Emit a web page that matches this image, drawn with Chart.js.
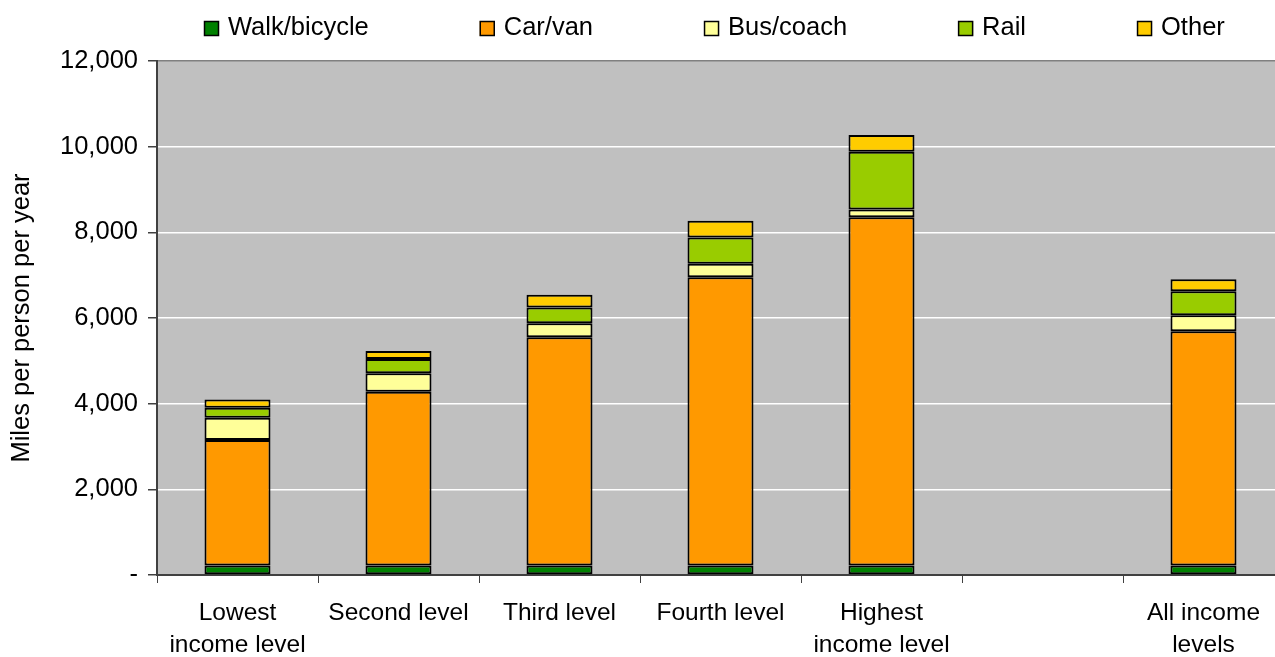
<!DOCTYPE html>
<html>
<head>
<meta charset="utf-8">
<title>Miles per person per year by income level</title>
<script src="https://cdn.jsdelivr.net/npm/chart.js@4.4.1/dist/chart.umd.min.js"></script>
<style>
  body { margin: 0; overflow: hidden; background: #fff; }
  canvas { display: block; }
</style>
</head>
<body>
<canvas id="chart" width="1290" height="657"></canvas>
<script>
// categories (the empty one is the gap before the total bar)
const categories = [["Lowest", "income level"], "Second level", "Third level", "Fourth level", ["Highest", "income level"], "", ["All income", "levels"]];
// miles per person per year
const walkBicycle = [220, 220, 220, 220, 220, null, 220];
const carVan = [2930, 4060, 5330, 6730, 8130, null, 5470];
const busCoach = [520, 430, 330, 315, 185, null, 375];
const rail = [235, 335, 365, 615, 1345, null, 560];
const other = [195, 185, 295, 390, 390, null, 280];
const yTicks = [0, 2000, 4000, 6000, 8000, 10000, 12000];

const fontFamily = '"Liberation Sans", Arial, sans-serif';
Chart.defaults.font.family = fontFamily;
Chart.defaults.font.size = 24;
Chart.defaults.color = '#000';

// grey plot area
const plotBackground = {
    id: 'plotBackground',
    beforeDraw(chart) {
        const { ctx, chartArea: a } = chart;
        ctx.save();
        ctx.fillStyle = '#c0c0c0';
        ctx.fillRect(a.left, a.top, a.right - a.left, a.bottom - a.top);
        ctx.restore();
    }
};

// legend row across the top, spaced like the original
const topLegend = {
    id: 'topLegend',
    afterDraw(chart) {
        const ctx = chart.ctx;
        ctx.save();
        ctx.font = '25.5px ' + fontFamily;
        ctx.textBaseline = 'middle';
        let x = 204;
        chart.data.datasets.forEach(ds => {
            ctx.fillStyle = ds.backgroundColor;
            ctx.fillRect(x, 21, 15, 15);
            ctx.lineWidth = 1.5;
            ctx.strokeStyle = '#000';
            ctx.strokeRect(x + 0.5, 21.5, 14, 14);
            ctx.fillStyle = '#000';
            ctx.fillText(ds.label, x + 24, 28);
            x += 24 + ctx.measureText(ds.label).width + 111;
        });
        ctx.restore();
    }
};

function makeSet(label, data, color) {
    return {
        label: label,
        data: data,
        backgroundColor: color,
        borderColor: '#000',
        borderWidth: 2,
        borderSkipped: false,
        barPercentage: 0.41,
        categoryPercentage: 1.0
    };
}

new Chart(document.getElementById('chart'), {
    type: 'bar',
    data: {
        labels: categories,
        datasets: [
            makeSet('Walk/bicycle', walkBicycle, '#008000'),
            makeSet('Car/van', carVan, '#ff9900'),
            makeSet('Bus/coach', busCoach, '#ffff99'),
            makeSet('Rail', rail, '#99cc00'),
            makeSet('Other', other, '#ffcc00')
        ]
    },
    options: {
        responsive: false,
        animation: false,
        layout: { padding: { top: 61, right: 6, left: 0, bottom: 0 } },
        plugins: {
            legend: { display: false },
            tooltip: { enabled: false }
        },
        scales: {
            x: {
                stacked: true,
                grid: { display: true, drawOnChartArea: false, drawTicks: true, tickLength: 8, tickColor: '#404040', offset: true },
                border: { display: true, color: '#404040', width: 2 },
                ticks: { color: '#000', padding: 14, maxRotation: 0, autoSkip: false, font: { size: 24.5, lineHeight: 1.3 } },
                afterFit(scale) { scale.height = 82; }
            },
            y: {
                stacked: true,
                min: 0,
                max: 12000,
                afterBuildTicks(axis) { axis.ticks = yTicks.map(v => ({ value: v })); },
                grid: {
                    color: c => (c.tick && c.tick.value === 12000) ? '#808080' : '#ffffff',
                    lineWidth: 1.5,
                    tickLength: 9,
                    tickColor: '#404040'
                },
                border: { color: '#404040', width: 2 },
                ticks: { color: '#000', padding: 10, font: { size: 25.5 }, callback: v => v === 0 ? '-' : v.toLocaleString('en-GB') },
                title: { display: true, text: 'Miles per person per year', color: '#000', font: { size: 25.5 }, padding: { top: 7, bottom: 0 } },
                afterFit(scale) { scale.width = 157; }
            }
        }
    },
    plugins: [plotBackground, topLegend]
});
</script>
</body>
</html>
